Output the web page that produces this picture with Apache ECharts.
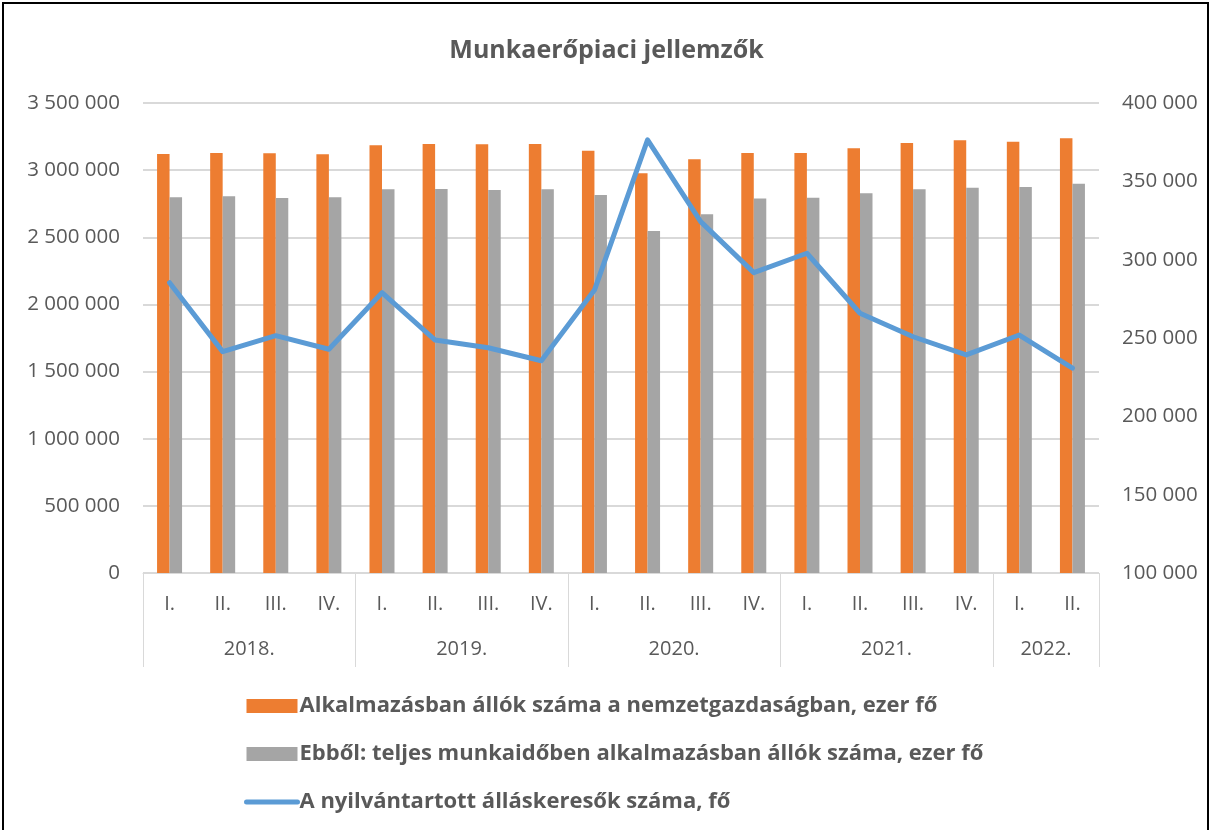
<!DOCTYPE html>
<html><head><meta charset="utf-8">
<script src="https://cdn.jsdelivr.net/npm/echarts@6/dist/echarts.min.js"></script>
<style>
html,body{margin:0;padding:0;background:#fff;}
#frame{position:absolute;left:2px;top:2px;width:1207px;height:840px;border:2px solid #000;box-sizing:border-box;}
#chart{position:absolute;left:0;top:0;width:1213px;height:830px;}
</style></head>
<body>
<div id="frame"></div>
<div id="chart"></div>
<script>
const quarters = ['I.','II.','III.','IV.','I.','II.','III.','IV.','I.','II.','III.','IV.','I.','II.','III.','IV.','I.','II.'];
const years = ['2018.','2019.','2020.','2021.','2022.'];
const yearStarts = [0,4,8,12,16,18];
const yearCenters = [2,6,10,14,17];
const employed = [3120000,3128000,3125000,3118000,3185000,3195000,3192000,3195000,3145000,2977000,3081000,3128000,3128000,3163000,3202000,3222000,3212000,3237000];
const fullTime = [2798000,2805000,2793000,2798000,2857000,2860000,2852000,2857000,2815000,2547000,2671000,2788000,2795000,2828000,2857000,2869000,2875000,2899000];
const jobSeekers = [285300,241300,251500,242800,278900,248700,243800,235500,280600,376500,324300,291700,304100,265800,250800,239200,251900,230700];
const seriesNames = ['Alkalmazásban állók száma a nemzetgazdaságban, ezer fő','Ebből: teljes munkaidőben alkalmazásban állók száma, ezer fő','A nyilvántartott álláskeresők száma, fő'];

const fmt = v => String(v).replace(/\B(?=(\d{3})+(?!\d))/g, ' ');
const FONT = '"Open Sans", sans-serif';
const TXT = '#595959';
const GRID = '#d9d9d9';

const chart = echarts.init(document.getElementById('chart'));
chart.setOption({
  animation:false,
  backgroundColor:'transparent',
  textStyle:{fontFamily:FONT},
  title:{text:'Munkaerőpiaci jellemzők',left:'center',top:33,textStyle:{fontFamily:FONT,fontSize:25,fontWeight:'bold',color:TXT}},
  grid:{left:143,right:114,top:103,bottom:257,containLabel:false},
  legend:{
    orient:'vertical',left:244,top:694,padding:0,itemWidth:51,itemHeight:14,itemGap:24,
    textStyle:{fontFamily:FONT,fontSize:22,fontWeight:'bold',color:TXT,lineHeight:24,padding:[0,0,0,-3]},
    data:[
      {name:seriesNames[0],icon:'rect'},
      {name:seriesNames[1],icon:'rect'},
      {name:seriesNames[2],itemStyle:{opacity:0},lineStyle:{width:5,cap:'round',color:'#5B9BD5'}}
    ]
  },
  xAxis:[
    {type:'category',data:quarters,position:'bottom',
     axisLine:{lineStyle:{color:GRID,width:1}},axisTick:{show:false},
     axisLabel:{color:TXT,fontSize:20,margin:21,fontFamily:FONT,interval:0}},
    {type:'value',min:0,max:18,position:'bottom',
     axisLine:{show:false},splitLine:{show:false},
     axisTick:{show:true,length:94,customValues:yearStarts,lineStyle:{color:GRID,width:1}},
     axisLabel:{show:true,customValues:yearCenters,margin:66,color:TXT,fontSize:20,fontFamily:FONT,
       formatter:v=>{const i=yearCenters.indexOf(v);return i>=0?years[i]:'';}}}
  ],
  yAxis:[
    {type:'value',min:0,max:3500000,interval:500000,
     axisLine:{show:false},axisTick:{show:false},
     splitLine:{lineStyle:{color:GRID,width:2}},
     axisLabel:{color:TXT,fontSize:20.5,margin:23,fontFamily:FONT,formatter:fmt}},
    {type:'value',min:100000,max:400000,interval:50000,position:'right',
     axisLine:{show:false},axisTick:{show:false},splitLine:{show:false},
     axisLabel:{color:TXT,fontSize:20.5,margin:23,fontFamily:FONT,formatter:fmt}}
  ],
  series:[
    {name:seriesNames[0],type:'bar',xAxisIndex:0,yAxisIndex:0,data:employed,barWidth:12.5,barGap:'0%',itemStyle:{color:'#ED7D31'}},
    {name:seriesNames[1],type:'bar',xAxisIndex:0,yAxisIndex:0,data:fullTime,barWidth:12.5,barGap:'0%',itemStyle:{color:'#A5A5A5'}},
    {name:seriesNames[2],type:'line',xAxisIndex:0,yAxisIndex:1,data:jobSeekers,symbol:'none',
     lineStyle:{color:'#5B9BD5',width:5,cap:'round',join:'round'},itemStyle:{color:'#5B9BD5'}}
  ]
});
</script>
</body></html>
